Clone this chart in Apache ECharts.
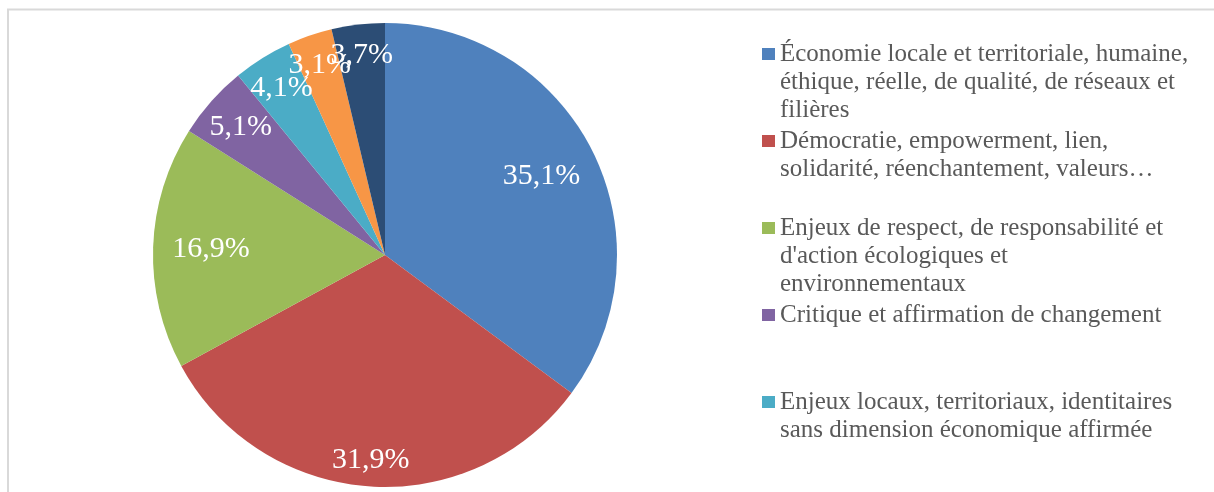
<!DOCTYPE html>
<html>
<head>
<meta charset="utf-8">
<script src="https://cdn.jsdelivr.net/npm/echarts@6/dist/echarts.min.js"></script>
<style>
  html, body { margin: 0; padding: 0; background: #fff; }
  #chart { width: 1214px; height: 492px; }
</style>
</head>
<body>
<div id="chart"></div>
<script>
// categories, wrapped the way the legend shows them (last two fall below the visible area)
const legendLines = [
  ['Économie locale et territoriale, humaine,', 'éthique, réelle, de qualité, de réseaux et', 'filières'],
  ['Démocratie, empowerment, lien,', 'solidarité, réenchantement, valeurs…'],
  ['Enjeux de respect, de responsabilité et', "d'action écologiques et", 'environnementaux'],
  ['Critique et affirmation de changement'],
  ['Enjeux locaux, territoriaux, identitaires', 'sans dimension économique affirmée'],
  ['Autres'],
  ['Non précisé'],
]
const categories = legendLines.map(l => l.join(' '))
const values = [35.1, 31.9, 16.9, 5.1, 4.1, 3.1, 3.7]
const colors = ['#4F81BD', '#C0504D', '#9BBB59', '#8064A2', '#4BACC6', '#F79646', '#2C4D75']

// label placement as a share of the radius
const labelRadius = [0.755, 0.885, 0.75, 0.83, 0.845, 0.867, 0.868]

const CX = 385, CY = 255, R = 232
const LINE_H = 28
const LEG_LEFT = 762, LEG_FIRST = 54, LEG_STEP = 87
const VISIBLE_LEGEND = 5

const chart = echarts.init(document.getElementById('chart'))

// one legend per item so each starts on its own slot; icon sits on the first line
const legends = categories.slice(0, VISIBLE_LEGEND).map((name, i) => {
  const n = legendLines[i].length
  return {
    orient: 'vertical',
    left: LEG_LEFT,
    top: LEG_FIRST + LEG_STEP * i - (2 * n - 1) * LINE_H / 2,
    padding: 0,
    itemWidth: 13, itemHeight: 12,
    icon: 'rect',
    selectedMode: false,
    data: [name],
    formatter: nm => {
      const lines = legendLines[categories.indexOf(nm)]
      return '\u00a0\n'.repeat(lines.length - 1) + lines.join('\n')
    },
    textStyle: {
      fontFamily: 'Liberation Serif', fontSize: 25, color: '#595959',
      lineHeight: LINE_H,
    },
  }
})

chart.setOption({
  animation: false,
  color: colors,
  graphic: [{
    type: 'rect', silent: true,
    shape: { x: 8, y: 9.5, width: 1400, height: 700 },
    style: { fill: 'none', stroke: '#d9d9d9', lineWidth: 2 },
  }],
  legend: legends,
  series: [{
    type: 'pie',
    center: [CX, CY],
    radius: R,
    startAngle: 90,
    clockwise: true,
    avoidLabelOverlap: false,
    itemStyle: { borderWidth: 0 },
    label: {
      show: true, position: 'inside',
      color: '#fff', fontFamily: 'Liberation Serif', fontSize: 30,
      formatter: p => p.value.toFixed(1).replace('.', ',') + '%',
    },
    labelLine: { show: false },
    labelLayout: p => {
      const lx = p.labelRect.x + p.labelRect.width / 2
      const ly = p.labelRect.y + p.labelRect.height / 2
      const a = Math.atan2(ly - CY, lx - CX)
      const r = labelRadius[p.dataIndex] * R
      return { dx: CX + r * Math.cos(a) - lx, dy: CY + r * Math.sin(a) - ly }
    },
    data: categories.map((name, i) => ({ name, value: values[i] })),
  }],
})
</script>
</body>
</html>
